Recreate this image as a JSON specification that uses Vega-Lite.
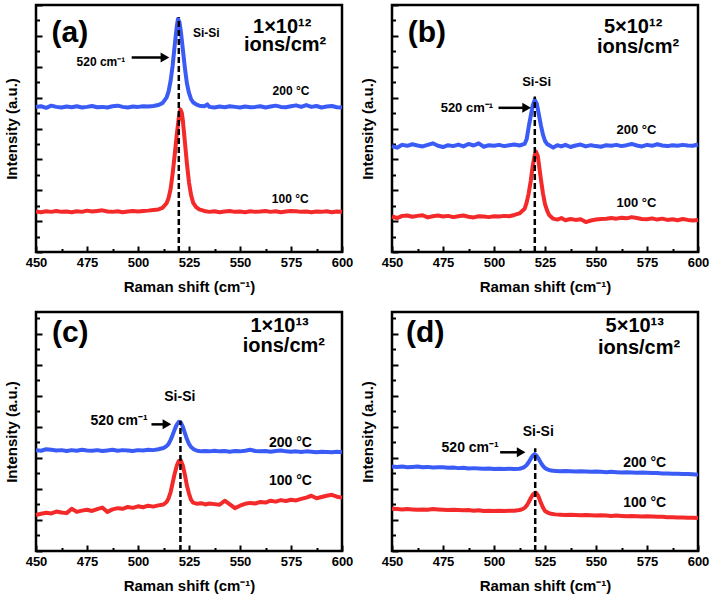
{
"$schema": "https://vega.github.io/schema/vega-lite/v6.json",
"background": "white",
"padding": {"left": 2, "top": 2, "right": 0, "bottom": 0},
"bounds": "flush",
"columns": 2,
"spacing": {"row": 60, "column": 50},
"config": {
  "font": "Liberation Sans",
  "view": {"stroke": "black", "strokeWidth": 2.5},
  "axis": {"domain": false, "grid": false, "tickColor": "black", "tickWidth": 2,
    "labelFont": "Liberation Sans", "labelFontWeight": "bold", "labelFontSize": 13, "labelColor": "black",
    "titleFont": "Liberation Sans", "titleFontWeight": "bold", "titleFontSize": 15, "titleColor": "black"},
  "axisX": {"labelPadding": 10, "titlePadding": 8, "labelFlush": false, "labelOverlap": false},
  "axisY": {"labels": false, "titlePadding": 16},
  "text": {"font": "Liberation Sans", "fontWeight": "bold", "color": "black", "align": "center", "baseline": "middle"}
},
"datasets": {
"a": [
{"s":"200","x":450,"y":4.70},{"s":"200","x":452.5,"y":4.72},{"s":"200","x":455,"y":4.67},{"s":"200","x":457.5,"y":4.74},{"s":"200","x":460,"y":4.70},{"s":"200","x":462.5,"y":4.68},{"s":"200","x":465,"y":4.71},{"s":"200","x":467.5,"y":4.69},{"s":"200","x":470,"y":4.72},{"s":"200","x":472.5,"y":4.68},{"s":"200","x":475,"y":4.70},{"s":"200","x":477.5,"y":4.73},{"s":"200","x":480,"y":4.69},{"s":"200","x":482.5,"y":4.70},{"s":"200","x":485,"y":4.68},{"s":"200","x":487.5,"y":4.72},{"s":"200","x":490,"y":4.74},{"s":"200","x":492.5,"y":4.70},{"s":"200","x":495,"y":4.68},{"s":"200","x":497.5,"y":4.71},{"s":"200","x":500,"y":4.70},{"s":"200","x":502.5,"y":4.72},{"s":"200","x":505,"y":4.71},{"s":"200","x":507.5,"y":4.73},{"s":"200","x":510,"y":4.76},{"s":"200","x":512,"y":4.82},{"s":"200","x":514,"y":5.0},{"s":"200","x":515,"y":5.2},{"s":"200","x":516,"y":5.55},{"s":"200","x":517,"y":6.05},{"s":"200","x":518,"y":6.7},{"s":"200","x":519,"y":7.3},{"s":"200","x":519.6,"y":7.55},{"s":"200","x":520.3,"y":7.45},{"s":"200","x":521,"y":7.15},{"s":"200","x":522,"y":6.55},{"s":"200","x":523,"y":5.95},{"s":"200","x":524,"y":5.45},{"s":"200","x":525,"y":5.15},{"s":"200","x":526,"y":4.95},{"s":"200","x":527,"y":4.85},{"s":"200","x":528.5,"y":4.78},{"s":"200","x":530,"y":4.74},{"s":"200","x":532.5,"y":4.72},{"s":"200","x":534,"y":4.78},{"s":"200","x":535,"y":4.70},{"s":"200","x":537.5,"y":4.68},{"s":"200","x":540,"y":4.71},{"s":"200","x":542.5,"y":4.69},{"s":"200","x":545,"y":4.72},{"s":"200","x":547.5,"y":4.70},{"s":"200","x":550,"y":4.68},{"s":"200","x":552.5,"y":4.71},{"s":"200","x":555,"y":4.69},{"s":"200","x":557.5,"y":4.70},{"s":"200","x":560,"y":4.72},{"s":"200","x":562.5,"y":4.68},{"s":"200","x":565,"y":4.71},{"s":"200","x":567.5,"y":4.74},{"s":"200","x":570,"y":4.70},{"s":"200","x":572.5,"y":4.69},{"s":"200","x":575,"y":4.72},{"s":"200","x":577.5,"y":4.75},{"s":"200","x":580,"y":4.70},{"s":"200","x":582.5,"y":4.76},{"s":"200","x":585,"y":4.70},{"s":"200","x":587.5,"y":4.73},{"s":"200","x":590,"y":4.68},{"s":"200","x":592.5,"y":4.71},{"s":"200","x":595,"y":4.73},{"s":"200","x":597.5,"y":4.69},{"s":"200","x":600,"y":4.68},
{"s":"100","x":450,"y":1.31},{"s":"100","x":452.5,"y":1.29},{"s":"100","x":455,"y":1.32},{"s":"100","x":457.5,"y":1.30},{"s":"100","x":460,"y":1.33},{"s":"100","x":462.5,"y":1.30},{"s":"100","x":465,"y":1.31},{"s":"100","x":467.5,"y":1.29},{"s":"100","x":470,"y":1.32},{"s":"100","x":472.5,"y":1.30},{"s":"100","x":475,"y":1.34},{"s":"100","x":477.5,"y":1.31},{"s":"100","x":480,"y":1.33},{"s":"100","x":482.5,"y":1.35},{"s":"100","x":485,"y":1.31},{"s":"100","x":487.5,"y":1.30},{"s":"100","x":490,"y":1.32},{"s":"100","x":492.5,"y":1.29},{"s":"100","x":495,"y":1.31},{"s":"100","x":497.5,"y":1.33},{"s":"100","x":500,"y":1.31},{"s":"100","x":502.5,"y":1.33},{"s":"100","x":505,"y":1.34},{"s":"100","x":507.5,"y":1.36},{"s":"100","x":510,"y":1.38},{"s":"100","x":512,"y":1.43},{"s":"100","x":514,"y":1.58},{"s":"100","x":515,"y":1.75},{"s":"100","x":516,"y":2.05},{"s":"100","x":517,"y":2.55},{"s":"100","x":518,"y":3.15},{"s":"100","x":519,"y":3.8},{"s":"100","x":520,"y":4.35},{"s":"100","x":520.8,"y":4.62},{"s":"100","x":521.5,"y":4.5},{"s":"100","x":522,"y":4.25},{"s":"100","x":523,"y":3.55},{"s":"100","x":524,"y":2.85},{"s":"100","x":525,"y":2.25},{"s":"100","x":526,"y":1.85},{"s":"100","x":527,"y":1.6},{"s":"100","x":528.5,"y":1.45},{"s":"100","x":530,"y":1.38},{"s":"100","x":532.5,"y":1.33},{"s":"100","x":535,"y":1.30},{"s":"100","x":537.5,"y":1.32},{"s":"100","x":540,"y":1.29},{"s":"100","x":542.5,"y":1.31},{"s":"100","x":545,"y":1.33},{"s":"100","x":547.5,"y":1.30},{"s":"100","x":550,"y":1.31},{"s":"100","x":552.5,"y":1.29},{"s":"100","x":555,"y":1.32},{"s":"100","x":557.5,"y":1.30},{"s":"100","x":560,"y":1.31},{"s":"100","x":562.5,"y":1.33},{"s":"100","x":565,"y":1.30},{"s":"100","x":567.5,"y":1.32},{"s":"100","x":570,"y":1.29},{"s":"100","x":572.5,"y":1.31},{"s":"100","x":575,"y":1.33},{"s":"100","x":577.5,"y":1.32},{"s":"100","x":580,"y":1.30},{"s":"100","x":582.5,"y":1.31},{"s":"100","x":585,"y":1.29},{"s":"100","x":587.5,"y":1.31},{"s":"100","x":590,"y":1.30},{"s":"100","x":592.5,"y":1.32},{"s":"100","x":595,"y":1.29},{"s":"100","x":597.5,"y":1.31},{"s":"100","x":600,"y":1.30}
],
"b": [
{"s":"200","x":450,"y":3.43},{"s":"200","x":452.5,"y":3.38},{"s":"200","x":455,"y":3.47},{"s":"200","x":457.5,"y":3.44},{"s":"200","x":460,"y":3.49},{"s":"200","x":462.5,"y":3.45},{"s":"200","x":465,"y":3.42},{"s":"200","x":467.5,"y":3.47},{"s":"200","x":470,"y":3.52},{"s":"200","x":472.5,"y":3.44},{"s":"200","x":475,"y":3.40},{"s":"200","x":477.5,"y":3.46},{"s":"200","x":480,"y":3.43},{"s":"200","x":482.5,"y":3.48},{"s":"200","x":485,"y":3.42},{"s":"200","x":487.5,"y":3.50},{"s":"200","x":490,"y":3.45},{"s":"200","x":492.5,"y":3.52},{"s":"200","x":495,"y":3.41},{"s":"200","x":497.5,"y":3.46},{"s":"200","x":500,"y":3.44},{"s":"200","x":502.5,"y":3.47},{"s":"200","x":505,"y":3.43},{"s":"200","x":507.5,"y":3.46},{"s":"200","x":510,"y":3.48},{"s":"200","x":512.5,"y":3.45},{"s":"200","x":515,"y":3.5},{"s":"200","x":516,"y":3.65},{"s":"200","x":517,"y":4.05},{"s":"200","x":518,"y":4.4},{"s":"200","x":519,"y":4.75},{"s":"200","x":520,"y":4.93},{"s":"200","x":521,"y":4.8},{"s":"200","x":522,"y":4.45},{"s":"200","x":523,"y":4.1},{"s":"200","x":524,"y":3.8},{"s":"200","x":525,"y":3.6},{"s":"200","x":526,"y":3.5},{"s":"200","x":527.5,"y":3.44},{"s":"200","x":529,"y":3.38},{"s":"200","x":531,"y":3.46},{"s":"200","x":533,"y":3.42},{"s":"200","x":535,"y":3.47},{"s":"200","x":537.5,"y":3.40},{"s":"200","x":540,"y":3.45},{"s":"200","x":542.5,"y":3.48},{"s":"200","x":545,"y":3.42},{"s":"200","x":547.5,"y":3.46},{"s":"200","x":550,"y":3.43},{"s":"200","x":552.5,"y":3.41},{"s":"200","x":555,"y":3.46},{"s":"200","x":557.5,"y":3.44},{"s":"200","x":560,"y":3.47},{"s":"200","x":562.5,"y":3.43},{"s":"200","x":565,"y":3.46},{"s":"200","x":567.5,"y":3.50},{"s":"200","x":570,"y":3.45},{"s":"200","x":572.5,"y":3.42},{"s":"200","x":575,"y":3.47},{"s":"200","x":577.5,"y":3.44},{"s":"200","x":580,"y":3.49},{"s":"200","x":582.5,"y":3.45},{"s":"200","x":585,"y":3.43},{"s":"200","x":587.5,"y":3.46},{"s":"200","x":590,"y":3.44},{"s":"200","x":592.5,"y":3.47},{"s":"200","x":595,"y":3.45},{"s":"200","x":597.5,"y":3.44},{"s":"200","x":600,"y":3.48},
{"s":"100","x":450,"y":1.15},{"s":"100","x":452.5,"y":1.10},{"s":"100","x":455,"y":1.17},{"s":"100","x":457.5,"y":1.18},{"s":"100","x":460,"y":1.14},{"s":"100","x":462.5,"y":1.17},{"s":"100","x":465,"y":1.19},{"s":"100","x":467.5,"y":1.12},{"s":"100","x":470,"y":1.16},{"s":"100","x":472.5,"y":1.18},{"s":"100","x":475,"y":1.15},{"s":"100","x":477.5,"y":1.17},{"s":"100","x":480,"y":1.13},{"s":"100","x":482.5,"y":1.16},{"s":"100","x":485,"y":1.18},{"s":"100","x":487.5,"y":1.14},{"s":"100","x":490,"y":1.12},{"s":"100","x":492.5,"y":1.16},{"s":"100","x":495,"y":1.15},{"s":"100","x":497.5,"y":1.13},{"s":"100","x":500,"y":1.16},{"s":"100","x":502.5,"y":1.15},{"s":"100","x":505,"y":1.17},{"s":"100","x":507.5,"y":1.16},{"s":"100","x":510,"y":1.2},{"s":"100","x":512.5,"y":1.25},{"s":"100","x":515,"y":1.4},{"s":"100","x":516,"y":1.6},{"s":"100","x":517,"y":1.9},{"s":"100","x":518,"y":2.3},{"s":"100","x":519,"y":2.8},{"s":"100","x":520,"y":3.15},{"s":"100","x":520.6,"y":3.25},{"s":"100","x":521.5,"y":3.1},{"s":"100","x":522,"y":2.85},{"s":"100","x":523,"y":2.35},{"s":"100","x":524,"y":1.9},{"s":"100","x":525,"y":1.55},{"s":"100","x":526,"y":1.35},{"s":"100","x":527,"y":1.2},{"s":"100","x":529,"y":1.08},{"s":"100","x":531,"y":1.05},{"s":"100","x":533,"y":1.1},{"s":"100","x":535,"y":1.03},{"s":"100","x":537.5,"y":1.07},{"s":"100","x":540,"y":1.04},{"s":"100","x":542.5,"y":1.06},{"s":"100","x":545,"y":0.97},{"s":"100","x":547.5,"y":1.02},{"s":"100","x":550,"y":1.05},{"s":"100","x":552.5,"y":1.07},{"s":"100","x":555,"y":1.08},{"s":"100","x":557.5,"y":1.1},{"s":"100","x":560,"y":1.08},{"s":"100","x":562.5,"y":1.11},{"s":"100","x":565,"y":1.09},{"s":"100","x":567.5,"y":1.13},{"s":"100","x":570,"y":1.1},{"s":"100","x":572.5,"y":1.07},{"s":"100","x":575,"y":1.06},{"s":"100","x":577.5,"y":1.09},{"s":"100","x":580,"y":1.05},{"s":"100","x":582.5,"y":1.08},{"s":"100","x":585,"y":1.04},{"s":"100","x":587.5,"y":1.06},{"s":"100","x":590,"y":1.03},{"s":"100","x":592.5,"y":1.07},{"s":"100","x":595,"y":1.04},{"s":"100","x":597.5,"y":1.02},{"s":"100","x":600,"y":1.04}
],
"c": [
{"s":"200","x":450,"y":3.25},{"s":"200","x":452.5,"y":3.23},{"s":"200","x":455,"y":3.28},{"s":"200","x":457.5,"y":3.26},{"s":"200","x":460,"y":3.24},{"s":"200","x":462.5,"y":3.25},{"s":"200","x":465,"y":3.22},{"s":"200","x":467.5,"y":3.25},{"s":"200","x":470,"y":3.23},{"s":"200","x":472.5,"y":3.26},{"s":"200","x":475,"y":3.24},{"s":"200","x":477.5,"y":3.23},{"s":"200","x":480,"y":3.25},{"s":"200","x":482.5,"y":3.22},{"s":"200","x":485,"y":3.24},{"s":"200","x":487.5,"y":3.26},{"s":"200","x":490,"y":3.23},{"s":"200","x":492.5,"y":3.25},{"s":"200","x":495,"y":3.24},{"s":"200","x":497.5,"y":3.22},{"s":"200","x":500,"y":3.25},{"s":"200","x":502.5,"y":3.24},{"s":"200","x":505,"y":3.26},{"s":"200","x":507.5,"y":3.25},{"s":"200","x":510,"y":3.28},{"s":"200","x":512.5,"y":3.32},{"s":"200","x":514,"y":3.38},{"s":"200","x":515,"y":3.45},{"s":"200","x":516,"y":3.58},{"s":"200","x":517,"y":3.74},{"s":"200","x":518,"y":3.92},{"s":"200","x":519,"y":4.07},{"s":"200","x":520,"y":4.16},{"s":"200","x":521,"y":4.14},{"s":"200","x":522,"y":4.0},{"s":"200","x":523,"y":3.8},{"s":"200","x":524,"y":3.6},{"s":"200","x":525,"y":3.45},{"s":"200","x":526,"y":3.35},{"s":"200","x":527.5,"y":3.27},{"s":"200","x":529,"y":3.23},{"s":"200","x":531,"y":3.21},{"s":"200","x":533,"y":3.22},{"s":"200","x":535,"y":3.21},{"s":"200","x":537.5,"y":3.23},{"s":"200","x":540,"y":3.21},{"s":"200","x":542.5,"y":3.22},{"s":"200","x":545,"y":3.20},{"s":"200","x":547.5,"y":3.22},{"s":"200","x":550,"y":3.21},{"s":"200","x":552.5,"y":3.23},{"s":"200","x":555,"y":3.26},{"s":"200","x":557.5,"y":3.22},{"s":"200","x":560,"y":3.21},{"s":"200","x":562.5,"y":3.22},{"s":"200","x":565,"y":3.20},{"s":"200","x":567.5,"y":3.22},{"s":"200","x":570,"y":3.24},{"s":"200","x":572.5,"y":3.21},{"s":"200","x":575,"y":3.20},{"s":"200","x":577.5,"y":3.21},{"s":"200","x":580,"y":3.19},{"s":"200","x":582.5,"y":3.21},{"s":"200","x":585,"y":3.20},{"s":"200","x":587.5,"y":3.18},{"s":"200","x":590,"y":3.20},{"s":"200","x":592.5,"y":3.19},{"s":"200","x":595,"y":3.18},{"s":"200","x":597.5,"y":3.20},{"s":"200","x":600,"y":3.18},
{"s":"100","x":450,"y":1.16},{"s":"100","x":452.5,"y":1.20},{"s":"100","x":455,"y":1.23},{"s":"100","x":457.5,"y":1.21},{"s":"100","x":460,"y":1.27},{"s":"100","x":462.5,"y":1.24},{"s":"100","x":465,"y":1.22},{"s":"100","x":467.5,"y":1.36},{"s":"100","x":470,"y":1.26},{"s":"100","x":472.5,"y":1.30},{"s":"100","x":475,"y":1.33},{"s":"100","x":477.5,"y":1.29},{"s":"100","x":480,"y":1.35},{"s":"100","x":482.5,"y":1.40},{"s":"100","x":485,"y":1.26},{"s":"100","x":487.5,"y":1.34},{"s":"100","x":490,"y":1.38},{"s":"100","x":492.5,"y":1.36},{"s":"100","x":495,"y":1.42},{"s":"100","x":497.5,"y":1.39},{"s":"100","x":500,"y":1.44},{"s":"100","x":502.5,"y":1.41},{"s":"100","x":505,"y":1.46},{"s":"100","x":507.5,"y":1.43},{"s":"100","x":510,"y":1.47},{"s":"100","x":512.5,"y":1.50},{"s":"100","x":514,"y":1.58},{"s":"100","x":515,"y":1.7},{"s":"100","x":516,"y":1.9},{"s":"100","x":517,"y":2.2},{"s":"100","x":518,"y":2.5},{"s":"100","x":519,"y":2.75},{"s":"100","x":520,"y":2.9},{"s":"100","x":521,"y":2.92},{"s":"100","x":522,"y":2.75},{"s":"100","x":523,"y":2.45},{"s":"100","x":524,"y":2.1},{"s":"100","x":525,"y":1.85},{"s":"100","x":526,"y":1.65},{"s":"100","x":527,"y":1.56},{"s":"100","x":529,"y":1.52},{"s":"100","x":531,"y":1.54},{"s":"100","x":533,"y":1.50},{"s":"100","x":535,"y":1.53},{"s":"100","x":537.5,"y":1.51},{"s":"100","x":540,"y":1.49},{"s":"100","x":542.5,"y":1.62},{"s":"100","x":545,"y":1.50},{"s":"100","x":547.5,"y":1.38},{"s":"100","x":550,"y":1.46},{"s":"100","x":552.5,"y":1.52},{"s":"100","x":555,"y":1.55},{"s":"100","x":557.5,"y":1.53},{"s":"100","x":560,"y":1.58},{"s":"100","x":562.5,"y":1.56},{"s":"100","x":565,"y":1.62},{"s":"100","x":567.5,"y":1.59},{"s":"100","x":570,"y":1.64},{"s":"100","x":572.5,"y":1.61},{"s":"100","x":575,"y":1.65},{"s":"100","x":577.5,"y":1.63},{"s":"100","x":580,"y":1.68},{"s":"100","x":582.5,"y":1.72},{"s":"100","x":585,"y":1.78},{"s":"100","x":587.5,"y":1.70},{"s":"100","x":590,"y":1.74},{"s":"100","x":592.5,"y":1.78},{"s":"100","x":595,"y":1.81},{"s":"100","x":597.5,"y":1.75},{"s":"100","x":600,"y":1.72}
],
"d": [
{"s":"200","x":450,"y":2.72},{"s":"200","x":452.5,"y":2.71},{"s":"200","x":455,"y":2.72},{"s":"200","x":457.5,"y":2.70},{"s":"200","x":460,"y":2.71},{"s":"200","x":462.5,"y":2.72},{"s":"200","x":465,"y":2.70},{"s":"200","x":467.5,"y":2.71},{"s":"200","x":470,"y":2.69},{"s":"200","x":472.5,"y":2.70},{"s":"200","x":475,"y":2.70},{"s":"200","x":477.5,"y":2.68},{"s":"200","x":480,"y":2.69},{"s":"200","x":482.5,"y":2.67},{"s":"200","x":485,"y":2.68},{"s":"200","x":487.5,"y":2.66},{"s":"200","x":490,"y":2.67},{"s":"200","x":492.5,"y":2.66},{"s":"200","x":495,"y":2.65},{"s":"200","x":497.5,"y":2.66},{"s":"200","x":500,"y":2.64},{"s":"200","x":502.5,"y":2.65},{"s":"200","x":505,"y":2.64},{"s":"200","x":507.5,"y":2.65},{"s":"200","x":510,"y":2.64},{"s":"200","x":512.5,"y":2.65},{"s":"200","x":514,"y":2.68},{"s":"200","x":515,"y":2.71},{"s":"200","x":516,"y":2.77},{"s":"200","x":517,"y":2.86},{"s":"200","x":518,"y":2.97},{"s":"200","x":519,"y":3.07},{"s":"200","x":520,"y":3.12},{"s":"200","x":521,"y":3.06},{"s":"200","x":522,"y":2.96},{"s":"200","x":523,"y":2.84},{"s":"200","x":524,"y":2.74},{"s":"200","x":525,"y":2.67},{"s":"200","x":526.5,"y":2.62},{"s":"200","x":528,"y":2.59},{"s":"200","x":530,"y":2.58},{"s":"200","x":532.5,"y":2.57},{"s":"200","x":535,"y":2.58},{"s":"200","x":537.5,"y":2.57},{"s":"200","x":540,"y":2.56},{"s":"200","x":542.5,"y":2.57},{"s":"200","x":545,"y":2.56},{"s":"200","x":547.5,"y":2.55},{"s":"200","x":550,"y":2.56},{"s":"200","x":552.5,"y":2.55},{"s":"200","x":555,"y":2.54},{"s":"200","x":557.5,"y":2.55},{"s":"200","x":560,"y":2.54},{"s":"200","x":562.5,"y":2.53},{"s":"200","x":565,"y":2.54},{"s":"200","x":567.5,"y":2.53},{"s":"200","x":570,"y":2.52},{"s":"200","x":572.5,"y":2.53},{"s":"200","x":575,"y":2.52},{"s":"200","x":577.5,"y":2.51},{"s":"200","x":580,"y":2.51},{"s":"200","x":582.5,"y":2.50},{"s":"200","x":585,"y":2.50},{"s":"200","x":587.5,"y":2.49},{"s":"200","x":590,"y":2.49},{"s":"200","x":592.5,"y":2.48},{"s":"200","x":595,"y":2.48},{"s":"200","x":597.5,"y":2.47},{"s":"200","x":600,"y":2.46},
{"s":"100","x":450,"y":1.36},{"s":"100","x":452.5,"y":1.35},{"s":"100","x":455,"y":1.34},{"s":"100","x":457.5,"y":1.35},{"s":"100","x":460,"y":1.34},{"s":"100","x":462.5,"y":1.33},{"s":"100","x":465,"y":1.34},{"s":"100","x":467.5,"y":1.33},{"s":"100","x":470,"y":1.35},{"s":"100","x":472.5,"y":1.34},{"s":"100","x":475,"y":1.33},{"s":"100","x":477.5,"y":1.32},{"s":"100","x":480,"y":1.33},{"s":"100","x":482.5,"y":1.32},{"s":"100","x":485,"y":1.31},{"s":"100","x":487.5,"y":1.32},{"s":"100","x":490,"y":1.30},{"s":"100","x":492.5,"y":1.31},{"s":"100","x":495,"y":1.29},{"s":"100","x":497.5,"y":1.30},{"s":"100","x":500,"y":1.29},{"s":"100","x":502.5,"y":1.30},{"s":"100","x":505,"y":1.29},{"s":"100","x":507.5,"y":1.30},{"s":"100","x":510,"y":1.30},{"s":"100","x":512.5,"y":1.32},{"s":"100","x":514,"y":1.35},{"s":"100","x":515,"y":1.39},{"s":"100","x":516,"y":1.46},{"s":"100","x":517,"y":1.57},{"s":"100","x":518,"y":1.70},{"s":"100","x":519,"y":1.81},{"s":"100","x":520,"y":1.87},{"s":"100","x":520.6,"y":1.88},{"s":"100","x":521.5,"y":1.8},{"s":"100","x":522,"y":1.72},{"s":"100","x":523,"y":1.55},{"s":"100","x":524,"y":1.40},{"s":"100","x":525,"y":1.29},{"s":"100","x":526.5,"y":1.23},{"s":"100","x":528,"y":1.2},{"s":"100","x":530,"y":1.18},{"s":"100","x":532.5,"y":1.17},{"s":"100","x":535,"y":1.16},{"s":"100","x":537.5,"y":1.17},{"s":"100","x":540,"y":1.16},{"s":"100","x":542.5,"y":1.15},{"s":"100","x":545,"y":1.16},{"s":"100","x":547.5,"y":1.15},{"s":"100","x":550,"y":1.14},{"s":"100","x":552.5,"y":1.15},{"s":"100","x":555,"y":1.14},{"s":"100","x":557.5,"y":1.13},{"s":"100","x":560,"y":1.14},{"s":"100","x":562.5,"y":1.13},{"s":"100","x":565,"y":1.12},{"s":"100","x":567.5,"y":1.13},{"s":"100","x":570,"y":1.12},{"s":"100","x":572.5,"y":1.11},{"s":"100","x":575,"y":1.12},{"s":"100","x":577.5,"y":1.11},{"s":"100","x":580,"y":1.10},{"s":"100","x":582.5,"y":1.10},{"s":"100","x":585,"y":1.09},{"s":"100","x":587.5,"y":1.09},{"s":"100","x":590,"y":1.08},{"s":"100","x":592.5,"y":1.08},{"s":"100","x":595,"y":1.07},{"s":"100","x":597.5,"y":1.07},{"s":"100","x":600,"y":1.06}
],
"ann": [
{"p":"a","k":"lab","x":466.6,"y":7.08,"t":"(a)"},
{"p":"a","k":"dose","x":570.7,"y":7.30,"t":"1×10¹²"},
{"p":"a","k":"dose","x":572.1,"y":6.72,"t":"ions/cm²"},
{"p":"a","k":"small","x":533.5,"y":7.08,"t":"Si-Si"},
{"p":"a","k":"small","x":481.8,"y":6.17,"t":"520 cm⁻¹"},
{"p":"a","k":"small","x":575,"y":5.2,"t":"200 °C"},
{"p":"a","k":"small","x":574.6,"y":1.71,"t":"100 °C"},
{"p":"a","k":"dash","x":520,"y":0,"y2":7.6},
{"p":"a","k":"arrow","x":496.9,"x2":513,"y":6.3},
{"p":"a","k":"head","x":513.2,"y":6.3},
{"p":"b","k":"lab","x":467.1,"y":7.08,"t":"(b)"},
{"p":"b","k":"dose","x":568.2,"y":7.30,"t":"5×10¹²"},
{"p":"b","k":"dose","x":570.6,"y":6.65,"t":"ions/cm²"},
{"p":"b","k":"small","x":520.9,"y":5.52,"t":"Si-Si"},
{"p":"b","k":"small","x":486.7,"y":4.66,"t":"520 cm⁻¹"},
{"p":"b","k":"small","x":569.8,"y":3.96,"t":"200 °C"},
{"p":"b","k":"small","x":569.8,"y":1.59,"t":"100 °C"},
{"p":"b","k":"dash","x":520,"y":0,"y2":5.04},
{"p":"b","k":"arrow","x":502.2,"x2":516,"y":4.67},
{"p":"b","k":"head","x":516,"y":4.67},
{"p":"c","k":"lab","x":466.8,"y":7.02,"t":"(c)"},
{"p":"c","k":"dose","x":569.4,"y":7.24,"t":"1×10¹³"},
{"p":"c","k":"dose","x":571.5,"y":6.59,"t":"ions/cm²"},
{"p":"c","k":"small","x":520.5,"y":4.95,"t":"Si-Si"},
{"p":"c","k":"small","x":490.7,"y":4.2,"t":"520 cm⁻¹"},
{"p":"c","k":"small","x":574.7,"y":3.47,"t":"200 °C"},
{"p":"c","k":"small","x":574.7,"y":2.24,"t":"100 °C"},
{"p":"c","k":"dash","x":520.8,"y":0,"y2":4.2},
{"p":"c","k":"arrow","x":506.6,"x2":514,"y":4.08},
{"p":"c","k":"head","x":514.2,"y":4.08},
{"p":"d","k":"lab","x":466.3,"y":7.02,"t":"(d)"},
{"p":"d","k":"dose","x":569,"y":7.24,"t":"5×10¹³"},
{"p":"d","k":"dose","x":571.1,"y":6.53,"t":"ions/cm²"},
{"p":"d","k":"small","x":521.7,"y":3.82,"t":"Si-Si"},
{"p":"d","k":"small","x":488.3,"y":3.31,"t":"520 cm⁻¹"},
{"p":"d","k":"small","x":573.9,"y":2.83,"t":"200 °C"},
{"p":"d","k":"small","x":573.9,"y":1.54,"t":"100 °C"},
{"p":"d","k":"dash","x":520.2,"y":0,"y2":3.31},
{"p":"d","k":"arrow","x":503,"x2":513.3,"y":3.18},
{"p":"d","k":"head","x":513.3,"y":3.18}
]
},
"concat": [
{"width": 306, "height": 247, "layer": [
 {"data": {"name": "a"}, "mark": {"type": "line", "strokeWidth": 4, "strokeJoin": "round"},
  "encoding": {
   "x": {"field": "x", "type": "quantitative", "title": "Raman shift (cm⁻¹)", "scale": {"domain": [450, 600], "nice": false, "zero": false},
     "axis": {"tickCount": 100, "values": [450,462.5,475,487.5,500,512.5,525,537.5,550,562.5,575,587.5,600], "labelExpr": "datum.value % 25 === 0 ? datum.label : ''", "tickSize": {"condition": {"test": "datum.value % 25 === 0", "value": -6}, "value": -3.5}}},
   "y": {"field": "y", "type": "quantitative", "title": "Intensity (a.u.)", "scale": {"domain": [0, 8], "nice": false, "zero": false},
     "axis": {"tickCount": 100, "values": [0,0.5,1,1.5,2,2.5,3,3.5,4,4.5,5,5.5,6,6.5,7,7.5,8], "tickSize": {"condition": {"test": "datum.value % 1 === 0", "value": -6}, "value": -3.5}}},
   "color": {"field": "s", "type": "nominal", "scale": {"domain": ["200", "100"], "range": ["#3b5bf6", "#f42a2a"]}, "legend": null}}},
 {"data": {"name": "ann"}, "transform": [{"filter": "datum.p === 'a' && datum.k === 'dash'"}], "mark": {"type": "rule", "color": "black", "strokeWidth": 2.5, "strokeDash": [6, 3]},
  "encoding": {"x": {"field": "x", "type": "quantitative"}, "y": {"field": "y", "type": "quantitative"}, "y2": {"field": "y2"}}},
 {"data": {"name": "ann"}, "transform": [{"filter": "datum.p === 'a' && datum.k === 'arrow'"}], "mark": {"type": "rule", "color": "black", "strokeWidth": 2.5},
  "encoding": {"x": {"field": "x", "type": "quantitative"}, "x2": {"field": "x2"}, "y": {"field": "y", "type": "quantitative"}}},
 {"data": {"name": "ann"}, "transform": [{"filter": "datum.p === 'a' && datum.k === 'head'"}], "mark": {"type": "point", "shape": "triangle-right", "filled": true, "color": "black", "opacity": 1, "size": 100},
  "encoding": {"x": {"field": "x", "type": "quantitative"}, "y": {"field": "y", "type": "quantitative"}}},
 {"data": {"name": "ann"}, "transform": [{"filter": "datum.p === 'a' && datum.k === 'lab'"}], "mark": {"type": "text", "fontSize": 30},
  "encoding": {"x": {"field": "x", "type": "quantitative"}, "y": {"field": "y", "type": "quantitative"}, "text": {"field": "t"}}},
 {"data": {"name": "ann"}, "transform": [{"filter": "datum.p === 'a' && datum.k === 'dose'"}], "mark": {"type": "text", "fontSize": 20},
  "encoding": {"x": {"field": "x", "type": "quantitative"}, "y": {"field": "y", "type": "quantitative"}, "text": {"field": "t"}}},
 {"data": {"name": "ann"}, "transform": [{"filter": "datum.p === 'a' && datum.k === 'small'"}], "mark": {"type": "text", "fontSize": 12},
  "encoding": {"x": {"field": "x", "type": "quantitative"}, "y": {"field": "y", "type": "quantitative"}, "text": {"field": "t"}}}
]},
{"width": 306, "height": 247, "layer": [
 {"data": {"name": "b"}, "mark": {"type": "line", "strokeWidth": 4, "strokeJoin": "round"},
  "encoding": {
   "x": {"field": "x", "type": "quantitative", "title": "Raman shift (cm⁻¹)", "scale": {"domain": [450, 600], "nice": false, "zero": false},
     "axis": {"tickCount": 100, "values": [450,462.5,475,487.5,500,512.5,525,537.5,550,562.5,575,587.5,600], "labelExpr": "datum.value % 25 === 0 ? datum.label : ''", "tickSize": {"condition": {"test": "datum.value % 25 === 0", "value": -6}, "value": -3.5}}},
   "y": {"field": "y", "type": "quantitative", "title": "Intensity (a.u.)", "scale": {"domain": [0, 8], "nice": false, "zero": false},
     "axis": {"tickCount": 100, "values": [0,0.5,1,1.5,2,2.5,3,3.5,4,4.5,5,5.5,6,6.5,7,7.5,8], "tickSize": {"condition": {"test": "datum.value % 1 === 0", "value": -6}, "value": -3.5}}},
   "color": {"field": "s", "type": "nominal", "scale": {"domain": ["200", "100"], "range": ["#3b5bf6", "#f42a2a"]}, "legend": null}}},
 {"data": {"name": "ann"}, "transform": [{"filter": "datum.p === 'b' && datum.k === 'dash'"}], "mark": {"type": "rule", "color": "black", "strokeWidth": 2.5, "strokeDash": [6, 3]},
  "encoding": {"x": {"field": "x", "type": "quantitative"}, "y": {"field": "y", "type": "quantitative"}, "y2": {"field": "y2"}}},
 {"data": {"name": "ann"}, "transform": [{"filter": "datum.p === 'b' && datum.k === 'arrow'"}], "mark": {"type": "rule", "color": "black", "strokeWidth": 2.5},
  "encoding": {"x": {"field": "x", "type": "quantitative"}, "x2": {"field": "x2"}, "y": {"field": "y", "type": "quantitative"}}},
 {"data": {"name": "ann"}, "transform": [{"filter": "datum.p === 'b' && datum.k === 'head'"}], "mark": {"type": "point", "shape": "triangle-right", "filled": true, "color": "black", "opacity": 1, "size": 100},
  "encoding": {"x": {"field": "x", "type": "quantitative"}, "y": {"field": "y", "type": "quantitative"}}},
 {"data": {"name": "ann"}, "transform": [{"filter": "datum.p === 'b' && datum.k === 'lab'"}], "mark": {"type": "text", "fontSize": 30},
  "encoding": {"x": {"field": "x", "type": "quantitative"}, "y": {"field": "y", "type": "quantitative"}, "text": {"field": "t"}}},
 {"data": {"name": "ann"}, "transform": [{"filter": "datum.p === 'b' && datum.k === 'dose'"}], "mark": {"type": "text", "fontSize": 20},
  "encoding": {"x": {"field": "x", "type": "quantitative"}, "y": {"field": "y", "type": "quantitative"}, "text": {"field": "t"}}},
 {"data": {"name": "ann"}, "transform": [{"filter": "datum.p === 'b' && datum.k === 'small'"}], "mark": {"type": "text", "fontSize": 13},
  "encoding": {"x": {"field": "x", "type": "quantitative"}, "y": {"field": "y", "type": "quantitative"}, "text": {"field": "t"}}}
]},
{"width": 306, "height": 239, "layer": [
 {"data": {"name": "c"}, "mark": {"type": "line", "strokeWidth": 4, "strokeJoin": "round"},
  "encoding": {
   "x": {"field": "x", "type": "quantitative", "title": "Raman shift (cm⁻¹)", "scale": {"domain": [450, 600], "nice": false, "zero": false},
     "axis": {"tickCount": 100, "values": [450,462.5,475,487.5,500,512.5,525,537.5,550,562.5,575,587.5,600], "labelExpr": "datum.value % 25 === 0 ? datum.label : ''", "tickSize": {"condition": {"test": "datum.value % 25 === 0", "value": -6}, "value": -3.5}}},
   "y": {"field": "y", "type": "quantitative", "title": "Intensity (a.u.)", "scale": {"domain": [0, 7.7], "nice": false, "zero": false},
     "axis": {"tickCount": 100, "values": [0,0.5,1,1.5,2,2.5,3,3.5,4,4.5,5,5.5,6,6.5,7,7.5], "tickSize": {"condition": {"test": "datum.value % 1 === 0", "value": -6}, "value": -3.5}}},
   "color": {"field": "s", "type": "nominal", "scale": {"domain": ["200", "100"], "range": ["#3b5bf6", "#f42a2a"]}, "legend": null}}},
 {"data": {"name": "ann"}, "transform": [{"filter": "datum.p === 'c' && datum.k === 'dash'"}], "mark": {"type": "rule", "color": "black", "strokeWidth": 2.5, "strokeDash": [6, 3]},
  "encoding": {"x": {"field": "x", "type": "quantitative"}, "y": {"field": "y", "type": "quantitative"}, "y2": {"field": "y2"}}},
 {"data": {"name": "ann"}, "transform": [{"filter": "datum.p === 'c' && datum.k === 'arrow'"}], "mark": {"type": "rule", "color": "black", "strokeWidth": 2.5},
  "encoding": {"x": {"field": "x", "type": "quantitative"}, "x2": {"field": "x2"}, "y": {"field": "y", "type": "quantitative"}}},
 {"data": {"name": "ann"}, "transform": [{"filter": "datum.p === 'c' && datum.k === 'head'"}], "mark": {"type": "point", "shape": "triangle-right", "filled": true, "color": "black", "opacity": 1, "size": 100},
  "encoding": {"x": {"field": "x", "type": "quantitative"}, "y": {"field": "y", "type": "quantitative"}}},
 {"data": {"name": "ann"}, "transform": [{"filter": "datum.p === 'c' && datum.k === 'lab'"}], "mark": {"type": "text", "fontSize": 30},
  "encoding": {"x": {"field": "x", "type": "quantitative"}, "y": {"field": "y", "type": "quantitative"}, "text": {"field": "t"}}},
 {"data": {"name": "ann"}, "transform": [{"filter": "datum.p === 'c' && datum.k === 'dose'"}], "mark": {"type": "text", "fontSize": 20},
  "encoding": {"x": {"field": "x", "type": "quantitative"}, "y": {"field": "y", "type": "quantitative"}, "text": {"field": "t"}}},
 {"data": {"name": "ann"}, "transform": [{"filter": "datum.p === 'c' && datum.k === 'small'"}], "mark": {"type": "text", "fontSize": 14},
  "encoding": {"x": {"field": "x", "type": "quantitative"}, "y": {"field": "y", "type": "quantitative"}, "text": {"field": "t"}}}
]},
{"width": 306, "height": 239, "layer": [
 {"data": {"name": "d"}, "mark": {"type": "line", "strokeWidth": 4, "strokeJoin": "round"},
  "encoding": {
   "x": {"field": "x", "type": "quantitative", "title": "Raman shift (cm⁻¹)", "scale": {"domain": [450, 600], "nice": false, "zero": false},
     "axis": {"tickCount": 100, "values": [450,462.5,475,487.5,500,512.5,525,537.5,550,562.5,575,587.5,600], "labelExpr": "datum.value % 25 === 0 ? datum.label : ''", "tickSize": {"condition": {"test": "datum.value % 25 === 0", "value": -6}, "value": -3.5}}},
   "y": {"field": "y", "type": "quantitative", "title": "Intensity (a.u.)", "scale": {"domain": [0, 7.7], "nice": false, "zero": false},
     "axis": {"tickCount": 100, "values": [0,0.5,1,1.5,2,2.5,3,3.5,4,4.5,5,5.5,6,6.5,7,7.5], "tickSize": {"condition": {"test": "datum.value % 1 === 0", "value": -6}, "value": -3.5}}},
   "color": {"field": "s", "type": "nominal", "scale": {"domain": ["200", "100"], "range": ["#3b5bf6", "#f42a2a"]}, "legend": null}}},
 {"data": {"name": "ann"}, "transform": [{"filter": "datum.p === 'd' && datum.k === 'dash'"}], "mark": {"type": "rule", "color": "black", "strokeWidth": 2.5, "strokeDash": [6, 3]},
  "encoding": {"x": {"field": "x", "type": "quantitative"}, "y": {"field": "y", "type": "quantitative"}, "y2": {"field": "y2"}}},
 {"data": {"name": "ann"}, "transform": [{"filter": "datum.p === 'd' && datum.k === 'arrow'"}], "mark": {"type": "rule", "color": "black", "strokeWidth": 2.5},
  "encoding": {"x": {"field": "x", "type": "quantitative"}, "x2": {"field": "x2"}, "y": {"field": "y", "type": "quantitative"}}},
 {"data": {"name": "ann"}, "transform": [{"filter": "datum.p === 'd' && datum.k === 'head'"}], "mark": {"type": "point", "shape": "triangle-right", "filled": true, "color": "black", "opacity": 1, "size": 100},
  "encoding": {"x": {"field": "x", "type": "quantitative"}, "y": {"field": "y", "type": "quantitative"}}},
 {"data": {"name": "ann"}, "transform": [{"filter": "datum.p === 'd' && datum.k === 'lab'"}], "mark": {"type": "text", "fontSize": 30},
  "encoding": {"x": {"field": "x", "type": "quantitative"}, "y": {"field": "y", "type": "quantitative"}, "text": {"field": "t"}}},
 {"data": {"name": "ann"}, "transform": [{"filter": "datum.p === 'd' && datum.k === 'dose'"}], "mark": {"type": "text", "fontSize": 20},
  "encoding": {"x": {"field": "x", "type": "quantitative"}, "y": {"field": "y", "type": "quantitative"}, "text": {"field": "t"}}},
 {"data": {"name": "ann"}, "transform": [{"filter": "datum.p === 'd' && datum.k === 'small'"}], "mark": {"type": "text", "fontSize": 14},
  "encoding": {"x": {"field": "x", "type": "quantitative"}, "y": {"field": "y", "type": "quantitative"}, "text": {"field": "t"}}}
]}
]
}
